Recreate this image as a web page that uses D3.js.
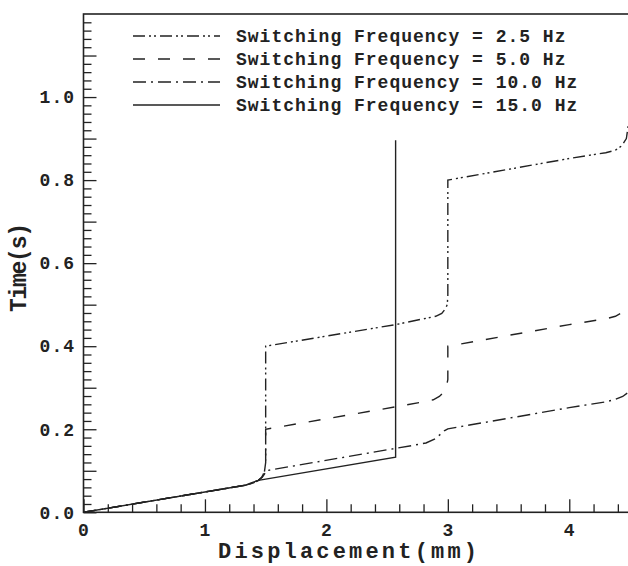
<!DOCTYPE html>
<html>
<head>
<meta charset="utf-8">
<script src="https://cdn.jsdelivr.net/npm/d3@7"></script>
<style>
  html, body { margin: 0; padding: 0; background: #fff; }
  svg { display: block; }
  text { font-family: "Liberation Mono", "Courier New", monospace; font-weight: bold; fill: #222; }
</style>
</head>
<body>
<svg id="chart" width="628" height="566"></svg>
<script>
// ---- data ----
const seriesNames = ["Switching Frequency = 2.5 Hz", "Switching Frequency = 5.0 Hz",
                     "Switching Frequency = 10.0 Hz", "Switching Frequency = 15.0 Hz"];

const f25X = [0, 1.0, 1.33, 1.40, 1.44, 1.47, 1.49, 1.5, 1.5, 2.57, 2.80, 2.90, 2.95, 2.98, 2.995, 3.0, 3.0, 4.0, 4.3, 4.38, 4.43, 4.47, 4.5];
const f25T = [0, 0.049, 0.065, 0.071, 0.077, 0.085, 0.098, 0.12, 0.40, 0.452, 0.466, 0.472, 0.479, 0.49, 0.50, 0.52, 0.80, 0.852, 0.866, 0.872, 0.882, 0.90, 0.96];

const f5X = [0, 1.0, 1.33, 1.40, 1.44, 1.47, 1.49, 1.5, 1.5, 2.57, 2.80, 2.88, 2.93, 2.97, 2.99, 3.0, 3.0, 4.0, 4.3, 4.38, 4.43, 4.47, 4.5];
const f5T = [0, 0.049, 0.065, 0.071, 0.077, 0.085, 0.098, 0.12, 0.20, 0.254, 0.266, 0.271, 0.279, 0.29, 0.305, 0.32, 0.40, 0.452, 0.466, 0.472, 0.48, 0.49, 0.505];

const f10X = [0, 1.0, 1.33, 1.40, 1.44, 1.47, 1.49, 1.5, 2.57, 2.71, 2.82, 2.89, 2.94, 2.97, 3.0, 4.0, 4.3, 4.38, 4.44, 4.5];
const f10T = [0, 0.049, 0.065, 0.071, 0.077, 0.084, 0.092, 0.10, 0.154, 0.161, 0.167, 0.176, 0.188, 0.196, 0.201, 0.252, 0.266, 0.272, 0.279, 0.292];

const f15X = [0, 1.0, 1.33, 1.38, 1.44, 1.5, 2.57, 2.57];
const f15T = [0, 0.049, 0.065, 0.071, 0.077, 0.080, 0.133, 0.896];

const xMajorTicks = [0, 1, 2, 3, 4];
const xTickLabels = ["0", "1", "2", "3", "4"];
const yMajorTicks = [0.0, 0.1, 0.2, 0.3, 0.4, 0.5, 0.6, 0.7, 0.8, 0.9, 1.0, 1.1];
const yTickLabels = ["0.0", "", "0.2", "", "0.4", "", "0.6", "", "0.8", "", "1.0", ""];
const xTitle = "Displacement(mm)";
const yTitle = "Time(s)";

// ---- layout ----
const svg = d3.select("#chart");
const X0 = 83.5, X1 = 630, Y0 = 512.3, Y1 = 14;
const x = d3.scaleLinear().domain([0, 4.5]).range([X0, X1]);
const y = d3.scaleLinear().domain([0, 1.2]).range([Y0, Y1]);
const ink = "#222";

const xMinor = d3.range(0, 4.5, 0.2).map(v => +v.toFixed(2)).filter(v => !xMajorTicks.some(m => Math.abs(m - v) < 1e-6));
const yMinor = d3.range(0, 1.2, 0.02).map(v => +v.toFixed(2)).filter(v => v > 0 && !yMajorTicks.some(m => Math.abs(m - v) < 1e-6));

// frame
svg.append("rect").attr("x", X0).attr("y", Y1).attr("width", X1 - X0).attr("height", Y0 - Y1)
  .attr("fill", "none").attr("stroke", ink).attr("stroke-width", 1.6);

// x axis
const gx = svg.append("g").attr("transform", `translate(0,${Y0})`);
gx.append("g").call(d3.axisBottom(x).tickValues(xMinor).tickSize(-8).tickSizeOuter(0).tickFormat(""));
gx.append("g").call(d3.axisBottom(x).tickValues(xMajorTicks).tickSize(-13).tickSizeOuter(0).tickPadding(10.5)
  .tickFormat((d, i) => xTickLabels[i]));
// y axis
const gy = svg.append("g").attr("transform", `translate(${X0},0)`);
gy.append("g").call(d3.axisLeft(y).tickValues(yMinor).tickSize(-8).tickSizeOuter(0).tickFormat(""));
gy.append("g").call(d3.axisLeft(y).tickValues(yMajorTicks).tickSize(-13).tickSizeOuter(0).tickPadding(8.5)
  .tickFormat((d, i) => yTickLabels[i]));

svg.selectAll(".domain").remove();
svg.selectAll(".tick line").attr("stroke", ink).attr("stroke-width", 1.3);
svg.selectAll(".tick text").attr("fill", ink)
  .style("font-family", '"Liberation Mono", monospace').style("font-weight", "bold")
  .style("font-size", "18px").style("letter-spacing", "1px");

// clip
svg.append("clipPath").attr("id", "clip").append("rect")
  .attr("x", X0).attr("y", Y1).attr("width", X1 - X0).attr("height", Y0 - Y1);

const series = [
  { xs: f25X, ts: f25T, dash: "12,4,2,3,2,4" },
  { xs: f5X, ts: f5T, dash: "12,13" },
  { xs: f10X, ts: f10T, dash: "13,5,2,5" },
  { xs: f15X, ts: f15T, dash: null }
];
const line = d3.line().x(d => x(d[0])).y(d => y(d[1]));
const gl = svg.append("g").attr("clip-path", "url(#clip)");
series.forEach(s => {
  const pts = s.xs.map((v, i) => [v, s.ts[i]]);
  gl.append("path").attr("d", line(pts)).attr("fill", "none").attr("stroke", ink)
    .attr("stroke-width", 1.4).attr("stroke-dasharray", s.dash);
});

// legend
const legY = [36, 59, 82, 105];
series.forEach((s, i) => {
  svg.append("line").attr("x1", 133).attr("x2", 220).attr("y1", legY[i]).attr("y2", legY[i])
    .attr("stroke", ink).attr("stroke-width", 1.4).attr("stroke-dasharray", s.dash);
  svg.append("text").attr("x", 236).attr("y", legY[i] + 6)
    .style("font-size", "18px").style("letter-spacing", "1px").text(seriesNames[i]);
});

// titles
svg.append("text").attr("x", 218).attr("y", 558).attr("textLength", 259).attr("lengthAdjust", "spacing")
  .style("font-size", "22px").text(xTitle);
svg.append("text").attr("transform", "translate(26,312) rotate(-90)")
  .attr("textLength", 89).attr("lengthAdjust", "spacing")
  .style("font-size", "23px").text(yTitle);
</script>
</body>
</html>
